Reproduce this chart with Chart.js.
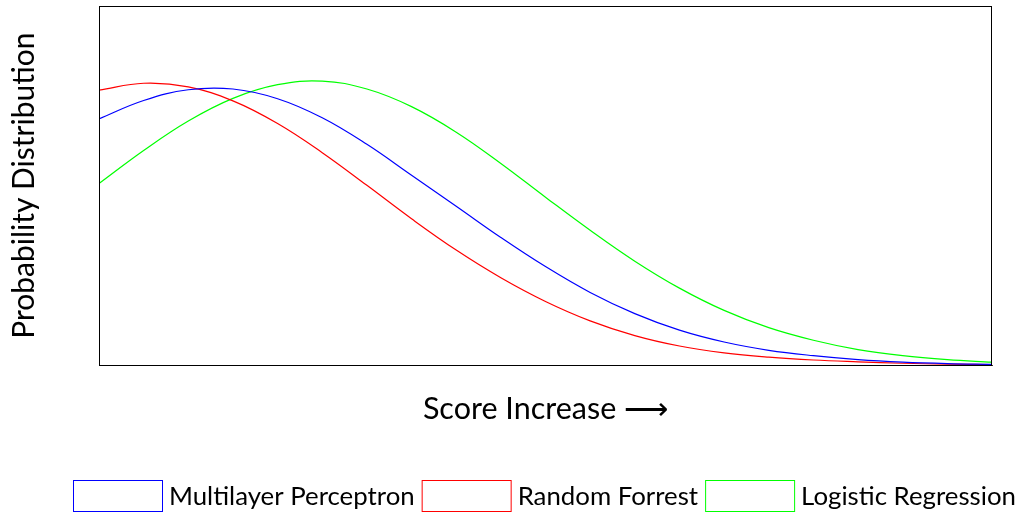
<!DOCTYPE html>
<html>
<head>
<meta charset="utf-8">
<script src="https://cdn.jsdelivr.net/npm/chart.js@4/dist/chart.umd.min.js"></script>
<style>
  html, body { margin: 0; padding: 0; background: #fff; }
  #wrap { width: 1016px; height: 512px; }
</style>
</head>
<body>
<div id="wrap"><canvas id="c" width="1016" height="512"></canvas></div>
<script>
// x positions (percent of score range)
const xPositions = [0,5,10,15,20,25,30,35,40,45,50,55,60,65,70,75,80,85,90,95,100];
const seriesNames = ['Multilayer Perceptron', 'Random Forrest', 'Logistic Regression'];
const mlpValues = [68.6,73.7,76.7,76.9,74.2,68.9,61.5,52.9,44.3,35.6,27.5,20.3,14.4,9.8,6.5,4.2,2.7,1.6,0.9,0.5,0.3];
const rfValues  = [76.6,78.5,77.5,73.6,67.3,59.2,50.1,40.8,32.1,24.4,17.8,12.4,8.3,5.4,3.5,2.3,1.5,1.0,0.6,0.35,0.2];
const lrValues  = [50.6,59.8,68.0,74.3,78.1,79.1,76.9,72.0,64.9,56.2,46.8,37.6,29.0,21.5,15.3,10.5,7.0,4.4,2.7,1.6,0.9];
const xTitle = 'Score Increase \u27F6';
const yTitle = 'Probability Distribution';
const colors = ['#0000ff', '#ff0000', '#00ff00'];

function pts(vals) { return xPositions.map((x, i) => ({x: x, y: vals[i]})); }

// closed frame around the plot area
const frame = {
  id: 'frame',
  afterDatasetsDraw(chart) {
    const a = chart.chartArea, ctx = chart.ctx;
    ctx.save();
    ctx.strokeStyle = '#000';
    ctx.lineWidth = 1;
    ctx.strokeRect(Math.round(a.left) + 0.5, Math.round(a.top) + 0.5,
                   Math.round(a.right - a.left) - 1, Math.round(a.bottom - a.top));
    ctx.restore();
  }
};

// legend: open boxes + labels, centred under the plot area
const boxLegend = {
  id: 'boxLegend',
  afterDraw(chart) {
    const ctx = chart.ctx, a = chart.chartArea;
    const boxW = 89, boxH = 31, gap = 7, itemGap = 7;
    ctx.save();
    ctx.font = '25.8px Lato';
    ctx.textBaseline = 'middle';
    ctx.textAlign = 'left';
    const items = chart.data.datasets.map(ds => ({
      text: ds.label, color: ds.borderColor, w: boxW + gap + ctx.measureText(ds.label).width
    }));
    const total = items.reduce((s, it) => s + it.w, 0) + itemGap * (items.length - 1);
    let x = Math.round((a.left + a.right) / 2 - 1 - total / 2);
    const top = chart.height - boxH - 1;
    items.forEach(it => {
      ctx.strokeStyle = it.color;
      ctx.lineWidth = 1;
      ctx.strokeRect(x + 0.5, top + 0.5, boxW, boxH);
      ctx.fillStyle = '#000';
      ctx.fillText(it.text, x + boxW + gap, top + boxH / 2 + 1);
      x += it.w + itemGap;
    });
    ctx.restore();
  }
};

new Chart(document.getElementById('c'), {
  type: 'line',
  data: {
    datasets: [
      { label: seriesNames[0], data: pts(mlpValues), borderColor: colors[0], backgroundColor: 'rgba(255,255,255,0)' },
      { label: seriesNames[1], data: pts(rfValues),  borderColor: colors[1], backgroundColor: 'rgba(255,255,255,0)' },
      { label: seriesNames[2], data: pts(lrValues),  borderColor: colors[2], backgroundColor: 'rgba(255,255,255,0)' }
    ]
  },
  options: {
    responsive: false,
    devicePixelRatio: 1,
    animation: false,
    layout: { padding: { left: 6, right: 24, top: 6, bottom: 85 } },
    elements: {
      line: { borderWidth: 1.2, tension: 0.4 },
      point: { radius: 0 }
    },
    scales: {
      x: {
        type: 'linear', min: 0, max: 100,
        grid: { display: false },
        border: { display: true, color: '#333' },
        ticks: { display: false },
        title: { display: true, text: xTitle, color: '#000',
                 font: { family: 'Lato', size: 30.5 }, padding: { top: 17, bottom: 0 } }
      },
      y: {
        type: 'linear', min: 0, max: 100,
        grid: { display: false },
        border: { display: true, color: '#333' },
        ticks: { display: false },
        title: { display: true, text: yTitle, color: '#000',
                 font: { family: 'Lato', size: 30 }, padding: { top: 0, bottom: 49 } }
      }
    },
    plugins: {
      legend: { display: false },
      tooltip: { enabled: false }
    }
  },
  plugins: [frame, boxLegend]
});
</script>
</body>
</html>
